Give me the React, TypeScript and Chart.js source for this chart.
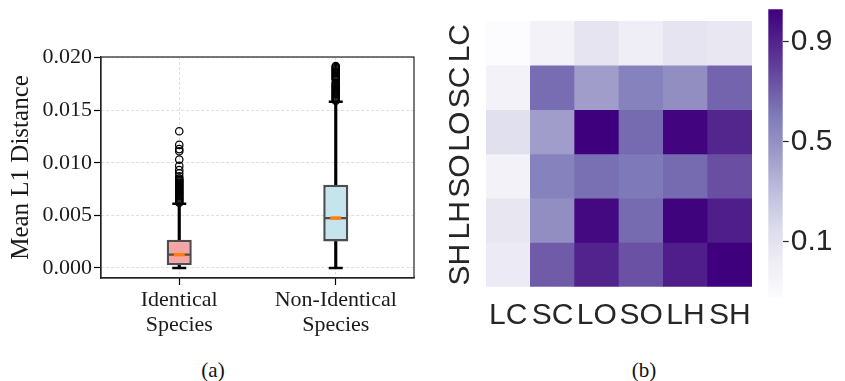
import React, { useEffect, useRef } from 'react';
import { Chart, registerables } from 'chart.js';

Chart.register(...registerables);

// ---------- Panel (a): box plot data ----------
const BOX_CATEGORIES = ['Identical Species', 'Non-Identical Species'];
const BOX_TICK_LINES = [['Identical', 'Species'], ['Non-Identical', 'Species']];
const BOX_Q1 = [0.00025, 0.00252];
const BOX_Q3 = [0.00268, 0.0079];
const BOX_MEDIAN = [0.00126, 0.00474];
const WHISKER_LOW = [0, 0];
const WHISKER_HIGH = [0.0061, 0.0158];
const OUTLIERS_IDENTICAL = [
  0.013, 0.0117, 0.0113, 0.0111, 0.0103, 0.0097, 0.0093, 0.009, 0.0087, 0.0085,
  0.0084, 0.0083, 0.0082, 0.0081, 0.008, 0.0079, 0.0078, 0.0077, 0.0076, 0.0075,
  0.0074, 0.0073, 0.0072, 0.0071, 0.007, 0.0069, 0.0068, 0.0067, 0.0066, 0.0065,
  0.0064, 0.0063, 0.0062,
];
const OUTLIERS_NON_IDENTICAL = [
  0.0192, 0.0191, 0.019, 0.0189, 0.0188, 0.0187, 0.0186, 0.0185, 0.0184, 0.0183,
  0.0182, 0.0181, 0.018, 0.0179, 0.0176, 0.0175, 0.0174, 0.0173, 0.0172, 0.0171,
  0.017, 0.0169, 0.0168, 0.0167, 0.0166, 0.0165, 0.0164, 0.0163, 0.0162, 0.0161,
  0.016, 0.0159,
];
const Y_TICKS = [0, 0.005, 0.01, 0.015, 0.02];
const Y_MIN = -0.00096;
const Y_MAX = 0.02006;
const BOX_FILLS = ['#f4a6a6', '#c6e4ee'];

// ---------- Panel (b): heatmap data ----------
const HEAT_COLS = ['LC', 'SC', 'LO', 'SO', 'LH', 'SH'];
const HEAT_ROWS = ['LC', 'SC', 'LO', 'SO', 'LH', 'SH'];
const ROW_LC = [-0.12, -0.03, 0.09, 0.02, 0.09, 0.06];
const ROW_SC = [-0.03, 0.65, 0.44, 0.57, 0.51, 0.68];
const ROW_LO = [0.12, 0.44, 1.03, 0.66, 1.01, 0.89];
const ROW_SO = [-0.03, 0.57, 0.64, 0.61, 0.66, 0.75];
const ROW_LH = [0.07, 0.51, 0.995, 0.66, 1.02, 0.92];
const ROW_SH = [0.04, 0.71, 0.9, 0.74, 0.92, 1.03];
const HEAT_VALUES = [ROW_LC, ROW_SC, ROW_LO, ROW_SO, ROW_LH, ROW_SH];
const CBAR_TICKS = [0.1, 0.5, 0.9];
const V_MIN = -0.125;
const V_MAX = 1.03;
const PURPLES = ['#fcfbfd', '#efedf5', '#dadaeb', '#bcbddc', '#9e9ac8', '#807dba', '#6a51a3', '#54278f', '#3f007d'];

const SERIF = '"Liberation Serif", "DejaVu Serif", serif';
const SANS = '"Liberation Sans", Arial, sans-serif';

function hexToRgb(h: string) {
  const n = parseInt(h.slice(1), 16);
  return [(n >> 16) & 255, (n >> 8) & 255, n & 255];
}
function colorOf(v: number) {
  let t = (v - V_MIN) / (V_MAX - V_MIN);
  t = Math.max(0, Math.min(1, t));
  const p = t * (PURPLES.length - 1);
  const i = Math.min(PURPLES.length - 2, Math.floor(p));
  const f = p - i;
  const a = hexToRgb(PURPLES[i]);
  const b = hexToRgb(PURPLES[i + 1]);
  const c = a.map((x, k) => Math.round(x + (b[k] - x) * f));
  return `rgb(${c[0]},${c[1]},${c[2]})`;
}

const framePlugin = {
  id: 'frame',
  afterDraw(chart: any) {
    const { ctx, chartArea } = chart;
    ctx.save();
    ctx.strokeStyle = '#222';
    ctx.lineWidth = 1.2;
    ctx.strokeRect(chartArea.left, chartArea.top, chartArea.right - chartArea.left, chartArea.bottom - chartArea.top);
    ctx.restore();
  },
};

export default function App() {
  const boxRef = useRef<HTMLCanvasElement>(null);
  const heatRef = useRef<HTMLCanvasElement>(null);
  const cbarRef = useRef<HTMLCanvasElement>(null);

  useEffect(() => {
    const pts = (vals: number[], cat: number) => vals.map((y) => ({ x: BOX_CATEGORIES[cat], y }));
    const boxChart = new Chart(boxRef.current as HTMLCanvasElement, {
      type: 'bar',
      data: {
        labels: BOX_CATEGORIES,
        datasets: [
          {
            type: 'bar',
            data: BOX_CATEGORIES.map((_, i) => [WHISKER_LOW[i], BOX_Q1[i]]),
            backgroundColor: '#000',
            barThickness: 2.5,
            grouped: false,
            order: 7,
          } as any,
          {
            type: 'bar',
            data: BOX_CATEGORIES.map((_, i) => [BOX_Q3[i], WHISKER_HIGH[i]]),
            backgroundColor: '#000',
            barThickness: 2.5,
            grouped: false,
            order: 7,
          } as any,
          {
            type: 'bar',
            data: BOX_CATEGORIES.map((_, i) => [BOX_Q1[i], BOX_Q3[i]]),
            backgroundColor: BOX_FILLS,
            borderColor: '#4d4d4d',
            borderWidth: 2.5,
            borderSkipped: false,
            barPercentage: 0.16,
            categoryPercentage: 1,
            grouped: false,
            order: 6,
          } as any,
          {
            type: 'line',
            showLine: false,
            data: [...pts([BOX_MEDIAN[0]], 0), ...pts([BOX_MEDIAN[1]], 1)],
            pointStyle: 'line',
            pointRadius: 11.5,
            borderColor: '#4d4d4d',
            backgroundColor: '#4d4d4d',
            borderWidth: 2.2,
            order: 5,
          } as any,
          {
            type: 'line',
            showLine: false,
            data: [...pts([BOX_MEDIAN[0]], 0), ...pts([BOX_MEDIAN[1]], 1)],
            pointStyle: 'line',
            pointRadius: 5.5,
            borderColor: '#ff7f0e',
            backgroundColor: '#ff7f0e',
            borderWidth: 3.5,
            order: 4,
          } as any,
          {
            type: 'line',
            showLine: false,
            data: [
              ...pts([WHISKER_LOW[0], WHISKER_HIGH[0]], 0),
              ...pts([WHISKER_LOW[1], WHISKER_HIGH[1]], 1),
            ],
            pointStyle: 'line',
            pointRadius: 7,
            borderColor: '#000',
            backgroundColor: '#000',
            borderWidth: 2.5,
            order: 3,
          } as any,
          {
            type: 'line',
            showLine: false,
            data: [...pts(OUTLIERS_IDENTICAL, 0), ...pts(OUTLIERS_NON_IDENTICAL, 1)],
            pointStyle: 'circle',
            pointRadius: 3.7,
            borderColor: '#000',
            backgroundColor: 'rgba(0,0,0,0)',
            borderWidth: 1.25,
            order: 2,
          } as any,
        ],
      },
      options: {
        animation: false,
        responsive: false,
        maintainAspectRatio: false,
        layout: { padding: { top: 57, right: 16, left: 0, bottom: 0 } },
        plugins: { legend: { display: false }, tooltip: { enabled: false } },
        scales: {
          x: {
            type: 'category',
            offset: true,
            grid: { offset: false, color: '#d6d6d6', lineWidth: 0.8, tickColor: '#000', tickLength: 7, tickWidth: 1.2 },
            border: { display: true, color: '#222', width: 1.2, dash: [3, 2] },
            ticks: {
              callback: (_v: any, i: number) => BOX_TICK_LINES[i],
              font: { family: SERIF, size: 22, lineHeight: 1.13 },
              color: '#1a1a1a',
              padding: 3,
              maxRotation: 0,
              autoSkip: false,
            },
            afterFit: (s: any) => {
              s.height = 67;
            },
          },
          y: {
            type: 'linear',
            min: Y_MIN,
            max: Y_MAX,
            afterBuildTicks: (a: any) => {
              a.ticks = Y_TICKS.map((v) => ({ value: v }));
            },
            grid: { color: '#d6d6d6', lineWidth: 0.8, tickColor: '#000', tickLength: 7, tickWidth: 1.2 },
            border: { display: true, color: '#222', width: 1.2, dash: [3, 2] },
            ticks: {
              callback: (v: any) => Number(v).toFixed(3),
              font: { family: SERIF, size: 22 },
              color: '#1a1a1a',
              padding: 2,
            },
            title: {
              display: true,
              text: 'Mean L1 Distance',
              font: { family: SERIF, size: 25 },
              color: '#1a1a1a',
              padding: { top: 6.5, bottom: 0 },
            },
            afterFit: (s: any) => {
              s.width = 101;
            },
          },
        },
      } as any,
      plugins: [framePlugin],
    });

    const heatChart = new Chart(heatRef.current as HTMLCanvasElement, {
      type: 'bar',
      data: {
        labels: HEAT_COLS,
        datasets: HEAT_ROWS.map((_row, r) => ({
          data: HEAT_COLS.map(() => [r, r + 1]),
          backgroundColor: HEAT_VALUES[r].map(colorOf),
          borderWidth: 0,
          barPercentage: 1,
          categoryPercentage: 1,
          grouped: false,
        })) as any,
      },
      options: {
        animation: false,
        responsive: false,
        maintainAspectRatio: false,
        layout: { padding: { top: 21, right: 8, left: 0, bottom: 0 } },
        plugins: { legend: { display: false }, tooltip: { enabled: false } },
        scales: {
          x: {
            type: 'category',
            offset: true,
            grid: { display: true, drawOnChartArea: false, drawTicks: true, tickLength: 10, tickColor: 'rgba(0,0,0,0)' },
            border: { display: false },
            ticks: { font: { family: SANS, size: 30 }, color: '#262626', padding: 1, maxRotation: 0, autoSkip: false },
            afterFit: (s: any) => {
              s.height = 53.3;
            },
          },
          y: {
            type: 'linear',
            min: 0,
            max: HEAT_ROWS.length,
            reverse: true,
            afterBuildTicks: (a: any) => {
              a.ticks = HEAT_ROWS.map((_l, i) => ({ value: i + 0.5 }));
            },
            grid: { display: true, drawOnChartArea: false, drawTicks: true, tickLength: 4, tickColor: 'rgba(0,0,0,0)' },
            border: { display: false },
            ticks: {
              callback: (v: any) => HEAT_ROWS[Math.floor(Number(v))],
              font: { family: SANS, size: 30, lineHeight: 0.5 },
              color: '#262626',
              minRotation: 90,
              maxRotation: 90,
              crossAlign: 'center',
              padding: 0,
            },
            afterFit: (s: any) => {
              s.width = 56;
            },
          },
        },
      } as any,
    });

    const cbarChart = new Chart(cbarRef.current as HTMLCanvasElement, {
      type: 'bar',
      data: {
        labels: ['scale'],
        datasets: [
          {
            data: [[V_MIN, V_MAX]],
            backgroundColor: (ctx: any) => {
              const { chart } = ctx;
              const area = chart.chartArea;
              if (!area) return PURPLES[4];
              const g = chart.ctx.createLinearGradient(0, area.bottom, 0, area.top);
              PURPLES.forEach((c, i) => g.addColorStop(i / (PURPLES.length - 1), c));
              return g;
            },
            borderWidth: 0,
            barPercentage: 1,
            categoryPercentage: 1,
          } as any,
        ],
      },
      options: {
        animation: false,
        responsive: false,
        maintainAspectRatio: false,
        layout: { padding: { top: 9.3, right: 0, left: 8.3, bottom: 42 } },
        plugins: { legend: { display: false }, tooltip: { enabled: false } },
        scales: {
          x: { type: 'category', display: false, offset: true },
          y: {
            type: 'linear',
            position: 'right',
            min: V_MIN,
            max: V_MAX,
            afterBuildTicks: (a: any) => {
              a.ticks = CBAR_TICKS.map((v) => ({ value: v }));
            },
            grid: { drawOnChartArea: false, drawTicks: true, tickLength: 6, tickColor: '#262626', tickWidth: 1.2 },
            border: { display: false },
            ticks: {
              callback: (v: any) => Number(v).toFixed(1),
              font: { family: SANS, size: 30, lineHeight: 0.4 },
              color: '#262626',
              padding: 2,
            },
            afterFit: (s: any) => {
              s.width = 62.3;
            },
          },
        },
      } as any,
    });

    return () => {
      boxChart.destroy();
      heatChart.destroy();
      cbarChart.destroy();
    };
  }, []);

  const caption: React.CSSProperties = {
    position: 'absolute',
    top: 358,
    width: 60,
    textAlign: 'center',
    fontFamily: SERIF,
    fontSize: 21,
    lineHeight: '24px',
    color: '#111',
  };

  return (
    <div style={{ position: 'absolute', left: 0, top: 0, width: 845, height: 381, background: '#fff', overflow: 'hidden' }}>
      <canvas ref={boxRef} width={430} height={345} style={{ position: 'absolute', left: 0, top: 0, width: 430, height: 345 }} />
      <canvas ref={heatRef} width={330} height={340} style={{ position: 'absolute', left: 430, top: 0, width: 330, height: 340 }} />
      <canvas ref={cbarRef} width={85} height={340} style={{ position: 'absolute', left: 760, top: 0, width: 85, height: 340 }} />
      <div style={{ ...caption, left: 183 }}>(a)</div>
      <div style={{ ...caption, left: 614 }}>(b)</div>
    </div>
  );
}
